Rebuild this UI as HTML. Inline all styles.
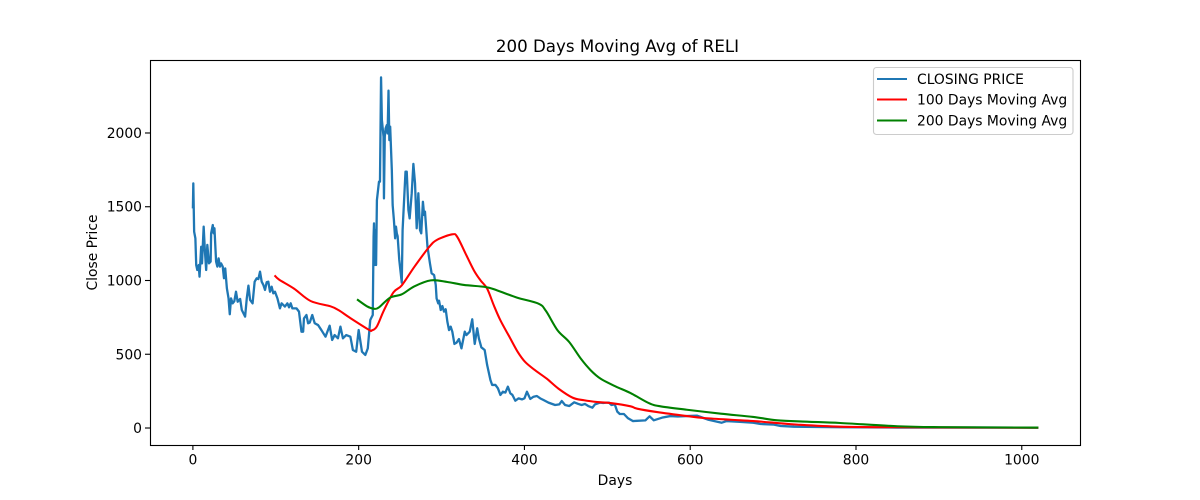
<!DOCTYPE html>
<html>
<head>
<meta charset="utf-8">
<title>200 Days Moving Avg of RELI</title>
<style>
html,body{margin:0;padding:0;background:#fff;width:1200px;height:500px;overflow:hidden}
svg{display:block}
text{font-family:"DejaVu Sans","Liberation Sans",sans-serif;fill:#000}
</style>
</head>
<body>
<svg id="chart" width="1200" height="500" viewBox="0 0 1200 500" xmlns="http://www.w3.org/2000/svg">
<text x="617.5" y="52" font-size="16.67" text-anchor="middle">200 Days Moving Avg of RELI</text>
<text x="615" y="485" font-size="13.89" text-anchor="middle">Days</text>
<text transform="translate(97 252.5) rotate(-90)" font-size="13.89" text-anchor="middle">Close Price</text>
<g id="ticks"></g>
<g id="series"></g>
<rect x="150.5" y="60.5" width="930" height="385" fill="none" stroke="#000" stroke-width="1.11"></rect>
<g>
<rect x="873.5" y="67.5" width="199.5" height="67" rx="3" ry="3" fill="#fff" fill-opacity="0.8" stroke="#ccc" stroke-width="1.11"></rect>
<line x1="877" x2="907" y1="79" y2="79" stroke="#1f77b4" stroke-width="2.08"></line>
<text x="917" y="84" font-size="13.89">CLOSING PRICE</text>
<line x1="877" x2="907" y1="99.5" y2="99.5" stroke="#ff0000" stroke-width="2.08"></line>
<text x="917" y="104.5" font-size="13.89">100 Days Moving Avg</text>
<line x1="877" x2="907" y1="120.5" y2="120.5" stroke="#008000" stroke-width="2.08"></line>
<text x="917" y="125.5" font-size="13.89">200 Days Moving Avg</text>
</g>
</svg>
<script>
var xTickValues = [0, 200, 400, 600, 800, 1000];
var yTickValues = [0, 500, 1000, 1500, 2000];
var closeDays = [0,0.5,1.5,3,4,5.3,7,8,10,11,13,14.5,16,17.4,19.4,21.4,22,24,25,26,28,29.5,31,32.7,34,36,37.5,39,41,43,44.5,46,48,50,52,54,57,59,63,65,67,69,72,74.5,77,79,81,83,85,87,89,91,93,95,97,99,102,105,107,111,114,116,118,120,125,128,131,133,134,137,139,141,144,147,151,155,160,165,168,171,175,178,181,185,190,193,197,200,204,208,211,214,215,217,218,218.5,219.6,220,221,222,224.5,225.7,227,228,230,230.5,231.5,232.5,234,234.9,236,237,238,240,241,242.5,244,245,246,247,249,252,253,255,256.5,258,260,261.5,264,266,268,270,272,274,275.5,277.5,279,280,283,286,288,291,293,294,296,297,299,301,303,305,307,309,311,313,315.5,318,321,324,328,330,334,337,340,343,345,348,352,355,359,361,365,368,371,374,377,380,383,385.5,389,393,397,400,403,407,411,415,419,423,429,437,442,445,449,454,460,465,469,473,477,482,485,491,495,499,502,505,509,512,515,520,525,531,546,551,556,566,576,585,596,608,622,638,644,660,676,685,701,709,725,781,850,950,1020];
var closeValues = [1489,1658,1331,1286,1105,1071,1105,1026,1229,1116,1365,1200,1071,1241,1116,1128,1320,1376,1320,1354,1128,1094,1150,1094,1116,1094,1015,1082,947,879,771,879,845,860,924,856,875,800,755,879,965,868,845,992,1015,1010,1060,992,970,936,988,992,924,958,913,924,879,811,845,823,845,818,845,811,811,789,653,653,743,766,710,715,766,710,698,664,619,694,597,630,608,687,608,630,619,529,517,664,517,495,540,732,744,766,1297,1387,1105,1342,1105,1545,1670,1670,2377,2088,1975,1557,1975,2031,2054,1997,2287,1952,2043,1749,1512,1410,1286,1365,1320,1300,1139,985,1342,1568,1738,1738,1478,1421,1591,1790,1659,1354,1591,1342,1320,1534,1444,1467,1229,1116,1049,1037,970,879,845,863,800,827,789,805,721,664,687,653,570,578,603,540,653,630,653,737,570,676,608,547,529,427,325,292,292,269,224,246,240,280,235,224,185,201,194,201,246,197,212,217,201,190,172,156,160,183,156,149,174,163,156,163,149,138,160,172,170,172,172,156,160,111,95,95,66,47,52,79,52,70,81,78,81,84,56,36,47,42,36,27,23,14,9,5,3,3,2];
var ma100Days = [98.5,104,122,142,166,176,190,212,216,222,230.5,242,252,267,285,295,313,319,329,339,347,355,363,371,382,392,401,413,427,441,458,472,488,504,528,536,560,596,616,649,676,705,729,781,850,950,1020];
var ma100Values = [1035,1006,945,861,825,798,745,667,662,689,798,920,967,1091,1227,1277,1313,1295,1182,1069,1001,945,832,730,617,515,447,391,334,267,206,188,176,169,147,131,108,81,68,56,47,34,23,9,5,3,2];
var ma200Days = [198,210,218,224,238,252,267,287,307,327,353,367,391,417,426,440,454,468,480,492,510,528,550,564,596,637,676,705,741,781,850,900,1020];
var ma200Values = [872,825,809,816,884,906,960,1001,990,970,956,933,884,843,793,662,583,470,391,334,282,237,169,147,124,97,75,52,43,34,12,6,3];

var svgNS = 'http://www.w3.org/2000/svg';
var xMin = -51.75, xMax = 1070.25, yMin = -115.2, yMax = 2494.8;
var plotL = 150, plotR = 1080, plotT = 60, plotB = 445;
function xScale(v){ return plotL + (v - xMin) / (xMax - xMin) * (plotR - plotL); }
function yScale(v){ return plotB - (v - yMin) / (yMax - yMin) * (plotB - plotT); }
var ticks = document.getElementById('ticks');
var series = document.getElementById('series');

xTickValues.forEach(function(v){
  var px = xScale(v);
  var l = document.createElementNS(svgNS, 'line');
  
  
  l.setAttribute('x1', px); l.setAttribute('x2', px);
  l.setAttribute('y1', plotB); l.setAttribute('y2', plotB + 5);
  l.setAttribute('stroke', '#000'); l.setAttribute('stroke-width', '1.11');
  ticks.appendChild(l);
  var t = document.createElementNS(svgNS, 'text');
  
  
  t.setAttribute('x', px); t.setAttribute('y', plotB + 19.5);
  t.setAttribute('font-size', '13.89'); t.setAttribute('text-anchor', 'middle');
  t.textContent = String(v);
  ticks.appendChild(t);
});
yTickValues.forEach(function(v){
  var py = yScale(v);
  var l = document.createElementNS(svgNS, 'line');
  
  
  l.setAttribute('x1', plotL - 5); l.setAttribute('x2', plotL);
  l.setAttribute('y1', py); l.setAttribute('y2', py);
  l.setAttribute('stroke', '#000'); l.setAttribute('stroke-width', '1.11');
  ticks.appendChild(l);
  var t = document.createElementNS(svgNS, 'text');
  
  
  t.setAttribute('x', plotL - 8); t.setAttribute('y', py + 5);
  t.setAttribute('font-size', '13.89'); t.setAttribute('text-anchor', 'end');
  t.textContent = String(v);
  ticks.appendChild(t);
});
function pointsFor(days, values){
  return days.map(function(d, i){ return xScale(d).toFixed(2) + ',' + yScale(values[i]).toFixed(2); }).join(' ');
}
function smoothPath(days, values){
  var p = days.map(function(d, i){ return [xScale(d), yScale(values[i])]; });
  var d = 'M' + p[0][0].toFixed(2) + ' ' + p[0][1].toFixed(2);
  for (var i = 0; i < p.length - 1; i++) {
    var a = p[Math.max(i - 1, 0)], b = p[i], c = p[i + 1], e = p[Math.min(i + 2, p.length - 1)];
    var c1x = b[0] + (c[0] - a[0]) / 6, c1y = b[1] + (c[1] - a[1]) / 6;
    var c2x = c[0] - (e[0] - b[0]) / 6, c2y = c[1] - (e[1] - b[1]) / 6;
    d += 'C' + c1x.toFixed(2) + ' ' + c1y.toFixed(2) + ' ' + c2x.toFixed(2) + ' ' + c2y.toFixed(2) + ' ' + c[0].toFixed(2) + ' ' + c[1].toFixed(2);
  }
  return d;
}
var closeLine = document.createElementNS(svgNS, 'polyline');


closeLine.setAttribute('points', pointsFor(closeDays, closeValues));
closeLine.setAttribute('fill', 'none');
closeLine.setAttribute('stroke', '#1f77b4');
closeLine.setAttribute('stroke-width', '2.3');
closeLine.setAttribute('stroke-linejoin', 'round');
series.appendChild(closeLine);
var ma100Line = document.createElementNS(svgNS, 'path');


ma100Line.setAttribute('d', smoothPath(ma100Days, ma100Values));
ma100Line.setAttribute('fill', 'none');
ma100Line.setAttribute('stroke', '#ff0000');
ma100Line.setAttribute('stroke-width', '2.08');
ma100Line.setAttribute('stroke-linejoin', 'round');
series.appendChild(ma100Line);
var ma200Line = document.createElementNS(svgNS, 'path');


ma200Line.setAttribute('d', smoothPath(ma200Days, ma200Values));
ma200Line.setAttribute('fill', 'none');
ma200Line.setAttribute('stroke', '#008000');
ma200Line.setAttribute('stroke-width', '2.08');
ma200Line.setAttribute('stroke-linejoin', 'round');
series.appendChild(ma200Line);
</script>
</body>
</html>
